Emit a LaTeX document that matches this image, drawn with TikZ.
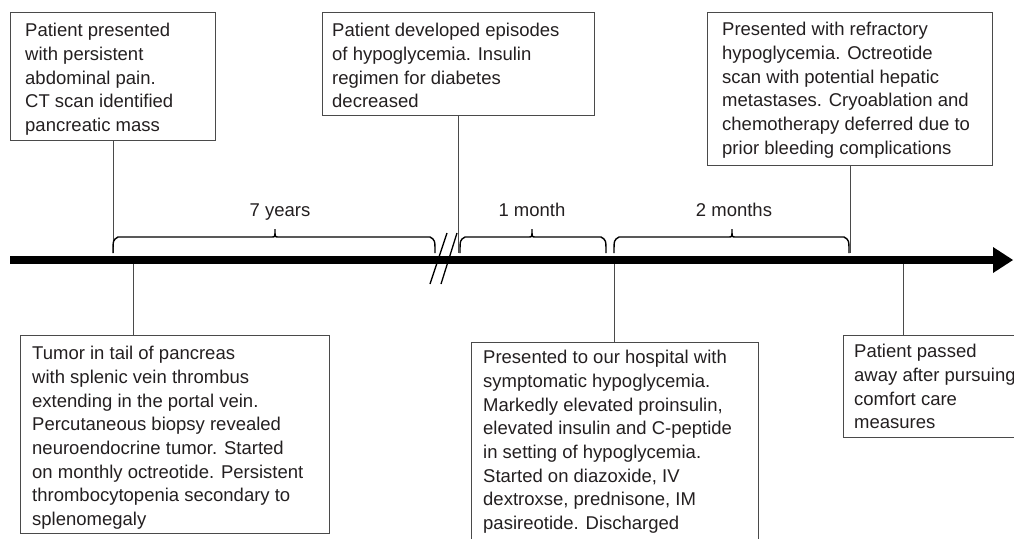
\documentclass[tikz,border=0pt]{standalone}
\usepackage{fontspec}
\setmainfont{Liberation Sans}
\definecolor{boxc}{HTML}{4A4A4A}
\definecolor{txtc}{HTML}{231F20}
\newcommand\tlbrace[3]{\draw[brc] (#1,253) .. controls (#1,240) .. (#1+5,237) -- (#3-3,237) .. controls (#3,237) .. (#3,229) .. controls (#3,237) .. (#3+3,237) -- (#2-5,237) .. controls (#2,240) .. (#2,253);}
\begin{document}
\begin{tikzpicture}[x=1pt,y=-1pt,
 box/.style={draw=boxc, line width=0.9pt, inner sep=0pt, anchor=north west},
 txt/.style={inner sep=0pt, anchor=north west, align=left, text=txtc, font=\fontsize{18.5}{23.7}\selectfont, execute at begin node=\rule{0pt}{14pt}},
 conn/.style={draw=boxc, line width=0.9pt},
 lbl/.style={text=txtc, font=\fontsize{18.5}{22}\selectfont, inner sep=0pt, anchor=base},
 brc/.style={line width=1.4pt, black},
 tlbar/.style={line width=8pt, black}]
\useasboundingbox (0,0) rectangle (1014,538);
\clip (0,0) rectangle (1014,538);
% boxes
\node[box, minimum width=205pt, minimum height=128pt] (b1) at (10,12) {};
\node[box, minimum width=272pt, minimum height=103pt] (b2) at (322,12) {};
\node[box, minimum width=285pt, minimum height=153pt] (b3) at (707,12) {};
\node[box, minimum width=309pt, minimum height=198pt] (b4) at (20,335) {};
\node[box, minimum width=287pt, minimum height=240pt] (b5) at (471,342) {};
\node[box, minimum width=220pt, minimum height=102pt] (b6) at (843,335) {};
% texts
\node[txt] (t1) at ([shift={(15,11)}]b1.north west) {Patient presented\\with persistent\\abdominal pain.\\CT scan identified\\pancreatic mass};
\node[txt] (t2) at ([shift={(10,11)}]b2.north west) {Patient developed episodes\\of hypoglycemia. Insulin\\regimen for diabetes\\decreased};
\node[txt] (t3) at ([shift={(15,10)}]b3.north west) {Presented with refractory\\hypoglycemia. Octreotide\\scan with potential hepatic\\metastases. Cryoablation and\\chemotherapy deferred due to\\prior bleeding complications};
\node[txt] (t4) at ([shift={(12,11)}]b4.north west) {Tumor in tail of pancreas\\with splenic vein thrombus\\extending in the portal vein.\\Percutaneous biopsy revealed\\neuroendocrine tumor. Started\\on monthly octreotide. Persistent\\thrombocytopenia secondary to\\splenomegaly};
\node[txt] (t5) at ([shift={(12,8)}]b5.north west) {Presented to our hospital with\\symptomatic hypoglycemia.\\Markedly elevated proinsulin,\\elevated insulin and C-peptide\\in setting of hypoglycemia.\\Started on diazoxide, IV\\dextroxse, prednisone, IM\\pasireotide. Discharged};
\node[txt] (t6) at ([shift={(11,9)}]b6.north west) {Patient passed\\away after pursuing\\comfort care\\measures};
% timeline
\draw[tlbar] (10,260) -- (995,260);
\fill[black] (993,247) -- (1013,260) -- (993,273) -- cycle;
% anchor points on the timeline
\coordinate (a1) at (113,253);
\coordinate (a2) at (458,253);
\coordinate (a3) at (849,253);
\coordinate (d1) at (133,264);
\coordinate (d2) at (614,264);
\coordinate (d3) at (903,264);
% connectors
\draw[conn] (b1.south) -- (b1.south |- a1);
\draw[conn] (b2.south) -- (b2.south |- a2);
\draw[conn] (b3.south) -- (b3.south |- a3);
\draw[conn] (d1) -- (d1 |- b4.north);
\draw[conn] (d2) -- (d2 |- b5.north);
\draw[conn] (d3) -- (d3 |- b6.north);
% braces
\tlbrace{113}{435}{275}
\tlbrace{460}{606}{532}
\tlbrace{614}{849}{732}
\node[lbl] (l1) at (280,216) {7 years};
\node[lbl] (l2) at (532,216) {1 month};
\node[lbl] (l3) at (734,216) {2 months};
% break marks
\draw[line width=1.3pt] (430,284) -- (447,233);
\draw[line width=1.3pt] (441,284) -- (457,233);
\end{tikzpicture}
\end{document}
